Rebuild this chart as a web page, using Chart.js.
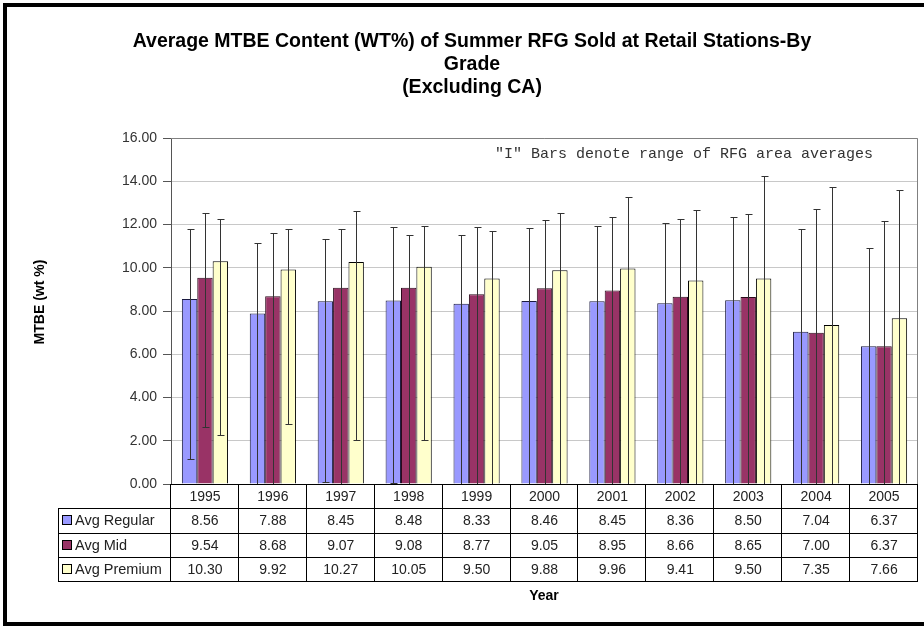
<!DOCTYPE html>
<html>
<head>
<meta charset="utf-8">
<title>MTBE Content by Grade</title>
<script src="https://cdn.jsdelivr.net/npm/chart.js@4.4.0/dist/chart.umd.min.js"></script>
<style>
  html, body { margin: 0; padding: 0; background: #fff; }
  #wrap { width: 924px; height: 627px; }
</style>
</head>
<body>
<div id="wrap"><canvas id="myChart" width="924" height="627"></canvas></div>
<script>
/* globals Chart:false */

const years = ['1995', '1996', '1997', '1998', '1999', '2000', '2001', '2002', '2003', '2004', '2005'];
const avgRegular = [8.56, 7.88, 8.45, 8.48, 8.33, 8.46, 8.45, 8.36, 8.50, 7.04, 6.37];
const avgMid = [9.54, 8.68, 9.07, 9.08, 8.77, 9.05, 8.95, 8.66, 8.65, 7.00, 6.37];
const avgPremium = [10.30, 9.92, 10.27, 10.05, 9.50, 9.88, 9.96, 9.41, 9.50, 7.35, 7.66];

// "I" bars: range of RFG area averages
const regularLow = [1.15, 0, 0.1, 0.05, 0, 0, 0, 0, 0, 0, 0];
const regularHigh = [11.78, 11.16, 11.35, 11.90, 11.50, 11.85, 11.95, 12.08, 12.36, 11.78, 10.90];
const midLow = [2.65, 0, 0, 0, 0, 0, 0, 0, 0, 0, 0];
const midHigh = [12.52, 11.59, 11.78, 11.50, 11.90, 12.19, 12.36, 12.27, 12.50, 12.73, 12.15];
const premiumLow = [2.27, 2.77, 2.03, 2.03, 0, 0, 0, 0, 0, 0, 0];
const premiumHigh = [12.27, 11.78, 12.61, 11.95, 11.71, 12.55, 13.29, 12.69, 14.26, 13.75, 13.61];

const seriesNames = ['Avg Regular', 'Avg Mid', 'Avg Premium'];
const yTicks = [0, 2, 4, 6, 8, 10, 12, 14, 16];

(() => {
  'use strict'

  const FONT = '"Liberation Sans", Arial, sans-serif';
  const ranges = [[regularLow, regularHigh], [midLow, midHigh], [premiumLow, premiumHigh]];

  // white page + outer frame + titles
  const framePlugin = {
    id: 'frame',
    beforeDraw(chart) {
      const c = chart.ctx;
      c.save();
      c.fillStyle = '#fff';
      c.fillRect(0, 0, chart.width, chart.height);
      c.restore();
    },
    afterDraw(chart) {
      const c = chart.ctx;
      const area = chart.chartArea;
      c.save();
      c.strokeStyle = '#000';
      c.lineWidth = 4;
      c.beginPath();
      c.moveTo(chart.width + 10, 5);
      c.lineTo(5, 5);
      c.lineTo(5, 624);
      c.lineTo(chart.width + 10, 624);
      c.stroke();

      c.fillStyle = '#000';
      c.textAlign = 'center';
      c.textBaseline = 'middle';
      c.font = 'bold 19.5px ' + FONT;
      c.fillText('Average MTBE Content (WT%) of Summer RFG Sold at Retail Stations-By', 472, 42);
      c.fillText('Grade', 472, 65);
      c.fillText('(Excluding CA)', 472, 88);

      // y axis title
      c.font = 'bold 14px ' + FONT;
      c.save();
      c.translate(40, 302);
      c.rotate(-Math.PI / 2);
      c.fillText('MTBE (wt %)', 0, 0);
      c.restore();

      // x axis title
      c.font = 'bold 14px ' + FONT;
      c.fillText('Year', 544, 596);

      // note in the plot
      c.fillStyle = '#333';
      c.font = '15px "Liberation Mono", "Courier New", monospace';
      c.fillText('"I" Bars denote range of RFG area averages', 684, 154);

      // plot border top/right
      c.strokeStyle = '#808080';
      c.lineWidth = 1;
      c.beginPath();
      c.moveTo(area.left, area.top + 0.5);
      c.lineTo(area.right - 0.5, area.top + 0.5);
      c.lineTo(area.right - 0.5, area.bottom);
      c.stroke();
      c.restore();
    }
  };

  // range bars over each column
  const errorBarPlugin = {
    id: 'errorBars',
    afterDatasetsDraw(chart) {
      const c = chart.ctx;
      const y = chart.scales.y;
      c.save();
      c.strokeStyle = '#333';
      c.lineWidth = 1;
      chart.data.datasets.forEach((ds, i) => {
        const meta = chart.getDatasetMeta(i);
        const lo = ranges[i][0];
        const hi = ranges[i][1];
        meta.data.forEach((bar, j) => {
          const x = Math.round(bar.x) + 0.5;
          const yHi = Math.round(y.getPixelForValue(hi[j])) + 0.5;
          const yLo = Math.round(y.getPixelForValue(lo[j])) + 0.5;
          c.beginPath();
          c.moveTo(x, yHi);
          c.lineTo(x, yLo);
          c.moveTo(x - 3, yHi);
          c.lineTo(x + 4, yHi);
          c.moveTo(x - 3, yLo);
          c.lineTo(x + 4, yLo);
          c.stroke();
        });
      });
      c.restore();
    }
  };

  // data table under the plot (Excel style)
  const tablePlugin = {
    id: 'dataTable',
    afterDraw(chart) {
      const c = chart.ctx;
      const area = chart.chartArea;
      const xs = chart.scales.x;
      const n = years.length;
      const colW = (area.right - area.left) / n;
      const top = area.bottom;
      const rowH = 24.3;
      const tableLeft = 58;
      const rows = [avgRegular, avgMid, avgPremium];
      const colors = chart.data.datasets.map(ds => ds.backgroundColor);

      c.save();
      c.strokeStyle = '#000';
      c.lineWidth = 1;
      c.beginPath();
      // x axis line
      c.moveTo(area.left, Math.round(top) + 0.5);
      c.lineTo(area.right, Math.round(top) + 0.5);
      for (let r = 1; r <= 4; r++) {
        const yy = Math.round(top + r * rowH) + 0.5;
        c.moveTo(tableLeft, yy);
        c.lineTo(area.right, yy);
      }
      for (let k = 0; k <= n; k++) {
        const xx = Math.round(area.left + k * colW) - 0.5;
        c.moveTo(xx, top);
        c.lineTo(xx, Math.round(top + 4 * rowH) + 1);
      }
      c.moveTo(tableLeft + 0.5, Math.round(top + rowH) + 0.5);
      c.lineTo(tableLeft + 0.5, Math.round(top + 4 * rowH) + 1);
      c.stroke();

      c.fillStyle = '#222';
      c.font = '14px ' + FONT;
      c.textAlign = 'center';
      c.textBaseline = 'middle';
      years.forEach((yr, k) => {
        const cx = xs.getPixelForValue(k);
        c.fillText(yr, cx, top + rowH / 2 + 1);
        rows.forEach((vals, r) => {
          c.fillText(vals[k].toFixed(2), cx, top + (r + 1.5) * rowH + 1);
        });
      });

      c.textAlign = 'left';
      c.font = '14.5px ' + FONT;
      seriesNames.forEach((name, r) => {
        const cy = top + (r + 1.5) * rowH;
        c.fillStyle = colors[r];
        c.fillRect(62, Math.round(cy - 5), 9, 9);
        c.strokeRect(62.5, Math.round(cy - 5) + 0.5, 9, 9);
        c.fillStyle = '#222';
        c.fillText(name, 75, cy + 1);
      });
      c.restore();
    }
  };

  const ctx = document.getElementById('myChart');
  // eslint-disable-next-line no-unused-vars
  const myChart = new Chart(ctx, {
    type: 'bar',
    data: {
      labels: years,
      datasets: [{
        label: seriesNames[0],
        data: avgRegular,
        backgroundColor: '#9999ff',
        borderColor: '#1a1a40',
        borderWidth: 1
      }, {
        label: seriesNames[1],
        data: avgMid,
        backgroundColor: '#993366',
        borderColor: '#2a0a1a',
        borderWidth: 1
      }, {
        label: seriesNames[2],
        data: avgPremium,
        backgroundColor: '#ffffcc',
        borderColor: '#000',
        borderWidth: 1
      }]
    },
    options: {
      responsive: false,
      animation: false,
      devicePixelRatio: 1,
      layout: {
        padding: { top: 138, right: 6, bottom: 143, left: 0 }
      },
      datasets: {
        bar: {
          categoryPercentage: 0.68,
          barPercentage: 1.0
        }
      },
      scales: {
        x: {
          display: false
        },
        y: {
          min: 0,
          max: 16,
          afterFit: (scale) => { scale.width = 171; },
          afterBuildTicks: (scale) => { scale.ticks = yTicks.map(v => ({ value: v })); },
          border: { color: '#555', width: 1 },
          grid: {
            color: '#c8c8c8',
            tickColor: '#555',
            tickLength: 8
          },
          ticks: {
            padding: 6,
            color: '#333',
            font: { family: FONT, size: 14 },
            callback: (v) => Number(v).toFixed(2)
          }
        }
      },
      plugins: {
        legend: { display: false },
        title: { display: false },
        tooltip: { enabled: false }
      }
    },
    plugins: [framePlugin, errorBarPlugin, tablePlugin]
  });
})();
</script>
</body>
</html>
